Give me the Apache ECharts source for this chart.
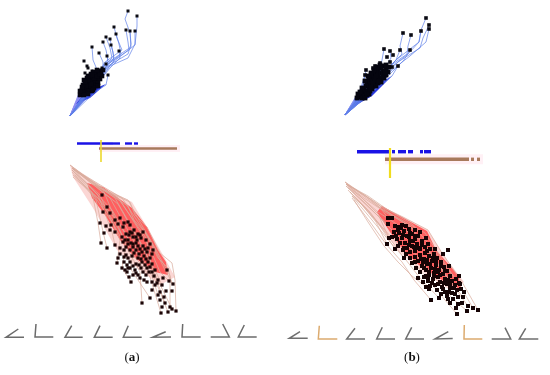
<!DOCTYPE html>
<html><head><meta charset="utf-8">
<style>html,body{margin:0;padding:0;background:#fff}#c{width:550px;height:375px}</style>
<script src="https://cdn.jsdelivr.net/npm/echarts@6/dist/echarts.min.js"></script></head>
<body><div id="c"></div>
<script>
const blueOriginA=[70,116], blueOriginB=[345,115], redOriginA=[70,165], redOriginB=[345,182];

const blueTailsA=[
[[128,11],[125,19],[130,33],[131,47],[107,63],[88,88]],
[[137,16],[137,26],[135,45],[113,62],[90,90]],
[[114,27],[117,38],[122,50],[105,62],[88,90]],
[[126,30],[128,42],[129,50],[108,64],[90,88]],
[[130,31],[131,44],[128,54],[108,66],[90,92]],
[[135,31],[135,44],[128,58],[110,66],[92,92]],
[[116,34],[119,44],[121,54],[107,65],[90,90]],
[[106,37],[110,48],[112,58],[102,68]],
[[110,39],[112,48],[114,58],[103,70]],
[[103,42],[106,50],[108,60],[100,70]],
[[111,45],[113,52],[114,62],[104,70]],
[[92,47],[93,60],[98,72]],
[[119,51],[120,58],[110,68],[92,90]],
[[99,53],[103,62],[103,70]],
[[107,56],[108,62],[104,72]],
[[108,75],[106,85],[95,92]]
];
const blueEndsA=[[128,11],[137,16],[114,27],[126,30],[130,31],[135,31],[116,34],[106,37],[110,39],[103,42],[111,45],[92,47],[119,51],[99,53],[107,56],[84,61],[87,66],[88,68],[106,64],[108,75],[85,73],[92,71],[102,68],[100,70]];
const blueClusterA=[[101,72],[98,73],[95,74],[103,70],[99,76],[96,77],[93,77],[91,79],[94,80],[97,80],[100,79],[102,76],[89,81],[92,82],[95,83],[98,83],[87,83],[90,85],[93,85],[96,86],[85,85],[88,87],[91,88],[94,88],[84,87],[86,90],[89,91],[92,91],[85,93],[88,94],[91,84],[94,78],[97,76],[100,74],[98,86],[93,90],[83,92],[87,78],[90,76],[84,80],
[80,95],[82,90],[81,93],[84,95],[80,91],[86,86],[83,85],[88,80],[91,74],[94,72],[97,70],[92,75],[88,76],[85,82],[82,87]];

const blueTailsB=[
[[426,18],[421,30],[419,42],[396,60],[372,88]],
[[429,25],[423,38],[420,48],[398,62],[372,90]],
[[429,29],[426,42],[410,56],[392,70],[368,94]],
[[421,31],[419,42],[408,54],[390,68]],
[[403,33],[400,46],[402,54],[386,70]],
[[411,35],[408,46],[407,54],[390,66]],
[[384,49],[382,60],[380,72]],
[[390,51],[391,58],[385,68]],
[[400,50],[396,60],[384,72]],
[[410,50],[404,60],[392,72],[370,94]],
[[398,66],[392,76],[372,92]],
[[375,66],[372,76],[368,88]],
[[366,70],[364,80],[362,92]],
[[365,75],[362,84],[360,94]]
];
const blueEndsB=[[426,18],[429,25],[429,29],[421,31],[403,33],[411,35],[384,49],[390,51],[400,50],[410,50],[393,55],[387,57],[390,62],[380,63],[375,66],[398,66],[373,68],[366,70],[392,67],[365,75]];
const blueClusterB=[[384,66],[381,68],[378,70],[386,69],[383,71],[380,73],[376,72],[373,74],[378,75],[383,75],[388,72],[371,77],[374,78],[377,79],[380,78],[384,78],[369,80],[372,81],[375,83],[378,83],[367,83],[370,84],[373,86],[376,86],[366,86],[369,88],[372,89],[375,80],[364,89],[367,91],[370,91],[363,92],[366,94],[369,94],[361,95],[364,96],[359,97],[362,98],[381,82],[386,75],
[357,98],[358,94],[360,92],[362,88],[365,81],[368,76],[371,73],[374,70],[377,67],[380,65],[386,65],[389,67],[385,72],[382,78],[379,81],[373,83],[371,87],[367,95],[365,98],[376,76]];

const redTailsA=[
[[70,165],[103,190],[130,202],[135,215],[147,227],[160,253],[172,263],[175,280],[176,311]],
[[70,165],[100,188],[128,206],[134,220],[145,232],[158,258],[168,268],[172,284]],
[[73,177],[100,200],[120,225],[135,250],[152,272],[168,312]],
[[73,175],[98,198],[118,228],[133,254],[150,277],[161,313]],
[[75,175],[95,197],[112,222],[128,250],[140,272],[142,303]],
[[72,170],[92,192],[98,223],[101,243]],
[[72,172],[96,200],[104,236],[107,248]],
[[72,170],[98,195],[112,232],[115,245]],
[[72,170],[100,195],[120,240],[117,263]],
[[72,168],[104,192],[126,245],[122,268],[131,282]],
[[72,168],[110,198],[136,245],[130,268],[150,298]],
[[72,168],[115,198],[142,245],[150,262],[165,303]],
[[72,168],[118,198],[146,238],[152,268],[172,309]],
[[72,168],[122,198],[150,240],[165,270],[173,284]],
[[72,168],[120,200],[148,244],[160,272],[169,281]],
[[72,168],[118,204],[144,250],[156,272],[162,285]],
[[72,168],[112,210],[136,252],[152,276],[158,295]],
[[72,168],[100,188],[128,200],[140,222],[155,248],[170,276],[170,307]]
];
const redDotsA=[[102,195],[107,207],[103,212],[110,213],[100,223],[106,226],[111,225],[115,220],[104,233],[110,230],[115,232],[101,243],[107,248],[115,245],[120,218],[128,222],[123,227],[130,225],[124,223],[118,224],
[122,237],[126,234],[130,232],[134,230],[138,234],[133,237],[128,240],[123,242],[137,240],[141,238],[143,232],[146,240],[128,244],[133,244],[138,246],[143,246],[148,248],[150,244],[153,250],[147,252],[142,252],[136,250],[130,250],[124,250],[120,248],[126,255],[120,254],[132,256],[138,258],[144,256],[150,258],[118,258],
[117,263],[122,268],[127,272],[129,277],[124,262],[130,262],[136,264],[142,262],[148,262],[152,264],[147,268],[141,268],[135,270],[130,268],[143,272],[138,275],[149,272],[152,272],[133,275],[128,268],
[131,282],[147,282],[152,282],[157,283],[162,285],[169,281],[173,284],[172,291],[152,290],[160,292],[158,295],[164,297],[150,298],[142,303],[165,303],[162,307],[170,307],[172,309],[176,311],[168,312],[161,313],[155,285],[163,278],[167,270],[160,300],[166,291],[154,276],
[129,235],[132,233],[136,237],[140,235],[125,240],[131,243],[136,243],[126,247],[133,247],[140,249],[145,249],[139,254],[134,253],[128,258],[124,257],[141,259],[146,259],[152,254],[127,265],[133,266],[139,265],[145,265],[150,267],[136,273],[146,275],[125,270],[140,278],[144,280],[155,270],[158,280]];

const redTailsB=[
[[345,182],[382,207],[403,217],[428,230],[442,253],[462,282],[478,310]],
[[345,182],[380,208],[400,219],[425,233],[440,256],[460,286],[473,308]],
[[346,184],[378,212],[398,225],[420,240],[436,262],[456,290],[468,306]],
[[348,188],[376,214],[394,232],[412,250],[430,272],[452,298],[467,311]],
[[350,192],[374,218],[392,238],[408,255],[425,276],[445,300],[457,314]],
[[352,196],[372,220],[390,242],[406,260],[420,278],[439,298]],
[[352,198],[370,222],[386,244],[402,262],[414,280],[431,300]],
[[354,200],[368,222],[384,246],[398,262],[412,276],[429,289]],
[[352,196],[370,212],[385,232],[404,258]],
[[350,192],[366,208],[380,226],[395,249]],
[[348,190],[362,205],[376,222],[387,244]],
[[346,186],[360,196],[378,214],[389,238]],
[[346,184],[366,196],[385,212],[410,226],[430,252],[448,278],[463,297]],
[[346,184],[368,196],[388,210],[412,224],[432,248],[450,272],[460,284]],
[[346,184],[364,198],[382,210],[388,218]],
[[346,186],[362,200],[378,216],[388,224]],
[[346,184],[372,200],[392,215],[415,230]]
];
const redDotsB=[[478,310],[473,308],[468,306],[467,311],[457,314],[458,304],[439,298],[431,300],[429,289],[463,297],[460,284],[404,258],[395,249],[387,244],[389,238],[388,218],[388,224],[395,226],[415,230],[392,218],[398,227],[402,225],
[394,232],[399,233],[404,231],[409,229],[412,234],[407,236],[402,238],[397,239],[392,237],[400,243],[405,243],[410,241],[415,239],[418,236],[420,232],[422,241],[417,244],[412,246],[407,248],[403,250],[398,246],[410,252],[415,251],[420,249],[425,247],[428,244],[430,249],[425,253],[420,255],[415,257],[410,258],[406,254],[412,263],[418,261],[424,259],[429,256],[434,254],[437,258],[432,261],[427,264],[422,266],[416,268],[420,272],[426,270],[431,268],[436,265],[441,262],[444,267],[439,270],[434,273],[429,275],[424,277],[418,278],[423,282],[428,281],[433,279],[438,277],[443,274],[447,271],[450,276],[445,279],[440,282],[435,285],[430,286],[426,287],[437,290],[442,287],[447,284],[452,281],[456,279],[459,276],[455,285],[450,288],[445,292],[441,294],[447,296],[452,293],[457,290],[461,289],[453,299],[458,297],[462,303],[456,308],[464,292],[450,303],[448,250],[443,254],
[396,236],[401,228],[406,226],[414,247],[409,237],[404,248],[426,238],[423,262],[435,249],[438,272],[426,276],[449,266],
[398,230],[403,235],[410,233],[415,236],[409,245],[413,241],[418,248],[422,245],[427,251],[421,259],[415,262],[427,260],[433,258],[430,264],[436,262],[424,268],[429,272],[435,269],[441,266],[428,278],[434,276],[440,275],[445,271],[432,283],[438,284],[444,283],[448,280],[443,289],[449,292],[454,288],[448,299],[455,294],[450,284],[459,283]];

const redCoreA=[[87,183],[103,187],[132,208],[147,227],[158,250],[166,262],[168,275],[155,272],[135,258],[120,240],[105,215],[92,198]];
const redHazeA=[[70,165],[103,187],[132,202],[147,227],[163,255],[175,277],[160,285],[137,268],[117,250],[93,208],[73,177]];
const redCoreB=[[377,212],[382,206],[400,216],[427,231],[436,250],[458,275],[462,290],[445,282],[420,266],[403,250],[390,232]];
const redHazeB=[[345,182],[382,207],[403,217],[428,230],[442,253],[464,282],[450,290],[417,268],[398,250],[383,230],[360,203]];
const blueCoreA=[[76,104],[84,94],[96,88],[106,84],[90,98]];
const blueCoreB=[[351,108],[360,95],[378,84],[392,76],[372,96]];

const blueRowA={y:143.5,segs:[[77,113],[113,120],[125,132],[134,138]]};
const brownRowA={y:148.5,segs:[[99,177]]};
const blueRowB={y:151.7,segs:[[357,390],[392,395],[398,406],[408,413],[420,423],[424,431]]};
const brownRowB={y:159.3,segs:[[385,469],[471,474],[477,480]]};
const yellowA=[[101,140],[101,162]];
const yellowB=[[390,148],[390,178]];

const anglesA=[[[18.3,329],[6,337.3],[24,337.3]],[[36,324],[35,337],[53.3,337]],[[71.7,325.7],[65,337.3],[82.7,337.3]],[[100,325.7],[94.3,337.3],[112.7,337.3]],[[128.3,325.7],[123.3,337.3],[141.7,337.3]],[[165.7,331.7],[152.7,337.3],[171,337]],[[182.7,324],[182,337],[200.7,337]],[[222.7,324],[229.3,337],[210.7,337]],[[244.3,325],[238.3,337],[256.7,337]]];
const anglesB=[[[300,331.7],[289.3,338.3],[307.7,338.3]],[[319.3,325.7],[318.3,339],[337.3,339]],[[355,328.3],[346.7,339],[365,339]],[[382.3,327.3],[376.7,339],[395,339]],[[411.7,327.3],[405.7,339],[424,339]],[[448.3,331.7],[435,339],[452.7,338.5]],[[464.3,325],[464,339],[482.3,339]],[[505,327.7],[510.7,339],[491.7,339]],[[525.7,328.3],[519.3,339],[538.3,339]]];
const orangeAnglesB=[1,6];

const series=[];
function line(data,color,width,z,opacity){series.push({type:'line',data,silent:true,showSymbol:false,symbol:'none',animation:false,z:z||2,lineStyle:{color,width,opacity:opacity==null?1:opacity,cap:'butt',join:'miter'}});}
function poly(pts,color,z){series.push({type:'custom',silent:true,animation:false,z,data:pts,encode:{x:0,y:1},
  renderItem:(p,api)=>{if(p.dataIndex!==0)return null;return {type:'polygon',shape:{points:pts.map(q=>api.coord(q))},style:{fill:color}};}});}
function dots(data,size,color,z){series.push({type:'scatter',data,silent:true,animation:false,symbol:'rect',symbolSize:size,z:z||6,itemStyle:{color,opacity:1}});}

poly(redHazeA,'#fbd6d4',1);poly(redHazeB,'#fbd6d4',1);
poly(redCoreA,'#ff5f5f',2);poly(redCoreB,'#ff5f5f',2);
redTailsA.forEach(p=>line(p,'#d9ad9e',0.8,3,0.9));
redTailsB.forEach(p=>line(p,'#d9ad9e',0.8,3,0.9));
blueClusterA.forEach(d=>line([blueOriginA,d],'#8c8cf0',0.5,3));
blueClusterB.forEach(d=>line([blueOriginB,d],'#7f8cf0',0.5,3));
poly(blueCoreA,'#2b3be0',4);poly(blueCoreB,'#2b3be0',4);
blueTailsA.forEach(p=>line(p.concat([blueOriginA]),'#5f7fe8',0.7,5));
blueTailsB.forEach(p=>line(p.concat([blueOriginB]),'#5f7fe8',0.7,5));
dots(blueEndsA,3,'#0a0a12');dots(blueClusterA,4.6,'#05050f');
dots(blueEndsB,3.6,'#0a0a12');dots(blueClusterB,4.8,'#05050f');
dots(redDotsA,3.2,'#1c0506');dots(redDotsB,4,'#160405');

function row(r,color,w){r.segs.forEach(s=>line([[s[0],r.y],[s[1],r.y]],color,w,4));}
series.push({type:'line',data:[[99,148.5],[180,148.5]],silent:true,symbol:'none',animation:false,z:1,lineStyle:{color:'#fff0f5',width:7}});
series.push({type:'line',data:[[385,159.3],[483,159.3]],silent:true,symbol:'none',animation:false,z:1,lineStyle:{color:'#fff0f5',width:10}});
row(blueRowA,'#1a12e6',2.4);row(brownRowA,'#a87a5c',2.4);
row(blueRowB,'#1a12e6',3.4);row(brownRowB,'#a87a5c',3.4);
line(yellowA,'#ecd92c',1.6,5);line(yellowB,'#f0dc1e',2.2,5);
anglesA.forEach(a=>line(a,'#6b6b6b',1.5,3));
anglesB.forEach((a,i)=>line(a,orangeAnglesB.includes(i)?'#dcab6f':'#6f6f6f',1.5,3));

const chart=echarts.init(document.getElementById('c'),null,{renderer:'canvas'});
const rich={p:{fontFamily:'Liberation Serif',fontSize:13,fill:'#111'},b:{fontFamily:'Liberation Serif',fontSize:13,fontWeight:'bold',fill:'#111'}};
chart.setOption({animation:false,backgroundColor:'#fff',
 grid:{left:0,right:0,top:0,bottom:0},
 xAxis:{type:'value',min:0,max:550,show:false},
 yAxis:{type:'value',min:0,max:375,inverse:true,show:false},
 series,
 graphic:[
  {type:'text',x:132,y:358,style:{text:'{p|(}{b|a}{p|)}',rich,align:'center',verticalAlign:'middle'}},
  {type:'text',x:412,y:358,style:{text:'{p|(}{b|b}{p|)}',rich,align:'center',verticalAlign:'middle'}}
 ]});
</script></body></html>
